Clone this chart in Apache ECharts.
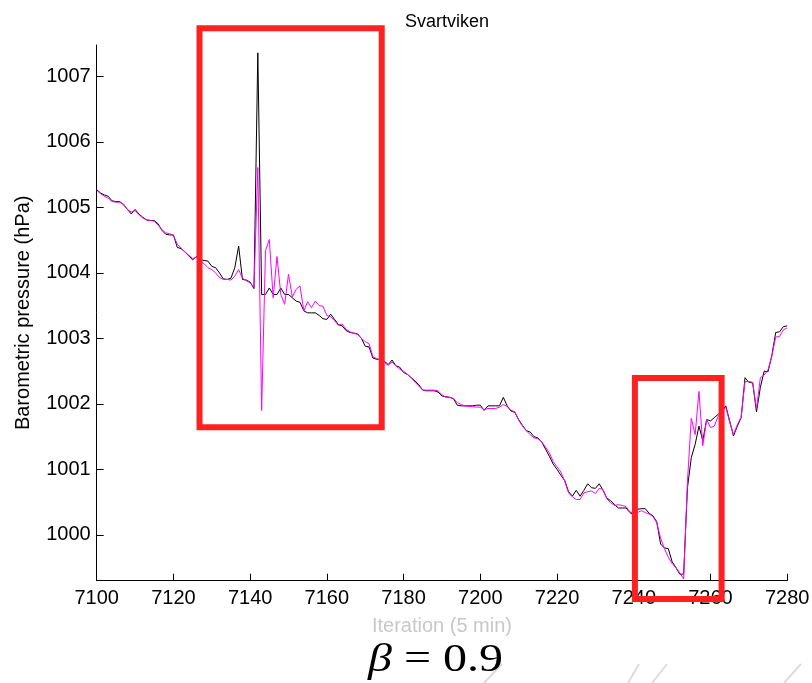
<!DOCTYPE html>
<html>
<head>
<meta charset="utf-8">
<title>Svartviken</title>
<script src="https://cdn.jsdelivr.net/npm/echarts@6/dist/echarts.min.js"></script>
<style>
  html, body { margin: 0; padding: 0; background: #ffffff; }
  #chart { width: 812px; height: 683px; }
</style>
</head>
<body>
<div id="chart"></div>
<script>
// Iterations are 5-minute steps starting here
const firstIteration = 7100;

// Measured barometric pressure (hPa), black trace
const measured = [
  1005.27, 1005.22, 1005.19, 1005.17, 1005.10, 1005.09, 1005.09, 1005.04, 1004.97, 1004.90,
  1004.97, 1004.90, 1004.85, 1004.81, 1004.80, 1004.80, 1004.75, 1004.65, 1004.59, 1004.58,
  1004.58, 1004.39, 1004.37, 1004.32, 1004.26, 1004.20, 1004.25, 1004.20, 1004.19, 1004.18,
  1004.10, 1004.08, 1004.00, 1003.91, 1003.90, 1003.92, 1004.08, 1004.41, 1003.90, 1003.89,
  1003.86, 1003.76, 1007.36, 1003.67, 1003.67, 1003.77, 1003.67, 1003.67, 1003.77, 1003.67,
  1003.67, 1003.62, 1003.57, 1003.55, 1003.42, 1003.39, 1003.39, 1003.39, 1003.35, 1003.30,
  1003.29, 1003.37, 1003.29, 1003.21, 1003.19, 1003.12, 1003.09, 1003.08, 1003.07, 1003.00,
  1002.88, 1002.87, 1002.70, 1002.68, 1002.68, 1002.65, 1002.60, 1002.67, 1002.58, 1002.56,
  1002.48, 1002.45, 1002.40, 1002.35, 1002.29, 1002.21, 1002.20, 1002.20, 1002.20, 1002.18,
  1002.12, 1002.11, 1002.10, 1002.08, 1001.98, 1001.97, 1001.97, 1001.97, 1001.97, 1001.98,
  1001.98, 1001.90, 1001.97, 1001.97, 1001.97, 1001.97, 1002.10, 1001.97, 1001.89, 1001.87,
  1001.76, 1001.67, 1001.59, 1001.57, 1001.50, 1001.48, 1001.42, 1001.31, 1001.20, 1001.08,
  1001.00, 1000.91, 1000.83, 1000.66, 1000.59, 1000.68, 1000.59, 1000.68, 1000.78, 1000.72,
  1000.71, 1000.78, 1000.68, 1000.56, 1000.52, 1000.46, 1000.41, 1000.41, 1000.41, 1000.34,
  1000.30, 1000.39, 1000.40, 1000.40, 1000.33, 1000.29, 1000.20,  999.86,  999.80,  999.79,
   999.59,  999.50,  999.40,  999.40, 1000.72, 1001.18, 1001.38, 1001.66, 1001.44, 1001.76,
  1001.74, 1001.79, 1001.84, 1001.90, 1001.97, 1001.74, 1001.51, 1001.66, 1001.79, 1002.40,
  1002.33, 1002.32, 1001.88, 1002.25, 1002.50, 1002.49, 1002.74, 1003.09, 1003.10, 1003.18,
  1003.19
];

// Filtered estimate (hPa), magenta trace
const filtered = [
  1005.26, 1005.21, 1005.17, 1005.14, 1005.09, 1005.08, 1005.08, 1005.05, 1004.97, 1004.93,
  1004.95, 1004.89, 1004.84, 1004.81, 1004.80, 1004.79, 1004.73, 1004.66, 1004.61, 1004.60,
  1004.57, 1004.44, 1004.38, 1004.32, 1004.27, 1004.22, 1004.24, 1004.18, 1004.14, 1004.08,
  1004.05, 1004.00, 1003.93, 1003.90, 1003.90, 1003.89, 1003.95, 1004.05, 1003.92, 1003.88,
  1003.85, 1003.78, 1005.61, 1001.90, 1004.34, 1004.51, 1003.62, 1004.25, 1003.67, 1003.52,
  1003.98, 1003.63, 1003.75, 1003.80, 1003.42, 1003.56, 1003.47, 1003.57, 1003.50, 1003.49,
  1003.35, 1003.33, 1003.27, 1003.20, 1003.22, 1003.14, 1003.10, 1003.08, 1003.06, 1003.00,
  1002.95, 1002.92, 1002.72, 1002.69, 1002.67, 1002.63, 1002.59, 1002.64, 1002.58, 1002.53,
  1002.50, 1002.45, 1002.40, 1002.33, 1002.27, 1002.21, 1002.21, 1002.21, 1002.21, 1002.20,
  1002.14, 1002.10, 1002.10, 1002.08, 1002.02, 1001.99, 1001.97, 1001.96, 1001.96, 1001.95,
  1001.95, 1001.91, 1001.93, 1001.93, 1001.93, 1001.95, 1001.99, 1001.96, 1001.90, 1001.88,
  1001.75, 1001.66, 1001.59, 1001.53, 1001.48, 1001.47, 1001.42, 1001.34, 1001.25, 1001.12,
  1001.04, 1000.96, 1000.82, 1000.64, 1000.58, 1000.54, 1000.54, 1000.64, 1000.66, 1000.67,
  1000.63, 1000.71, 1000.69, 1000.55, 1000.49, 1000.45, 1000.46, 1000.45, 1000.43, 1000.35,
  1000.33, 1000.34, 1000.37, 1000.34, 1000.32, 1000.28, 1000.18,  999.95,  999.79,  999.66,
   999.56,  999.50,  999.42,  999.33, 1000.82, 1001.78, 1001.53, 1002.19, 1001.36, 1001.76,
  1001.64, 1001.66, 1001.81, 1001.88, 1001.95, 1001.72, 1001.53, 1001.68, 1001.80, 1002.34,
  1002.34, 1002.33, 1001.92, 1002.40, 1002.44, 1002.52, 1002.73, 1003.02, 1003.03, 1003.13,
  1003.16
];

// Axis ticks
const xTicks = [7100, 7120, 7140, 7160, 7180, 7200, 7220, 7240, 7260, 7280];
const yTicks = [1000, 1001, 1002, 1003, 1004, 1005, 1006, 1007];

// Highlight boxes around the disturbances, in data units: [x0, yTop, x1, yBottom]
const highlightBoxes = [
  [7126.8, 1007.736, 7174.3, 1001.642],
  [7240.3, 1002.395, 7262.9, 999.022]
];

const toPairs = (values) => values.map((v, i) => [firstIteration + i, v]);
const plainNumber = (v) => String(v);

const chart = echarts.init(document.getElementById('chart'), null, { renderer: 'canvas' });

const sansFont = '"Liberation Sans", Arial, Helvetica, sans-serif';

const option = {
  animation: false,
  backgroundColor: '#ffffff',
  title: {
    text: 'Svartviken',
    left: 400,
    top: 8,
    textStyle: { fontFamily: sansFont, fontSize: 18, fontWeight: 'normal', color: '#000000' }
  },
  grid: {
    left: 96.7,
    right: 24.8,
    top: 45,
    bottom: 102.3,
    containLabel: false,
    outerBoundsMode: 'none'
  },
  xAxis: {
    type: 'value',
    min: xTicks[0],
    max: xTicks[xTicks.length - 1],
    interval: 20,
    name: 'Iteration (5 min)',
    nameLocation: 'middle',
    nameGap: 36,
    nameTextStyle: { fontFamily: sansFont, fontSize: 20, color: '#c8c8c8' },
    axisLine: { show: true, onZero: false, lineStyle: { color: '#000000', width: 1 } },
    axisTick: { show: true, inside: true, length: 7, lineStyle: { color: '#000000', width: 1 } },
    axisLabel: { fontFamily: sansFont, fontSize: 20, color: '#000000', margin: 8, formatter: plainNumber },
    splitLine: { show: false }
  },
  yAxis: {
    type: 'value',
    min: 999.30,
    max: 1007.48,
    name: 'Barometric pressure (hPa)',
    nameLocation: 'middle',
    nameRotate: 90,
    nameGap: 63,
    nameTextStyle: { fontFamily: sansFont, fontSize: 20, color: '#000000' },
    axisLine: { show: true, onZero: false, lineStyle: { color: '#000000', width: 1 } },
    axisTick: { show: true, inside: true, length: 7, customValues: yTicks, lineStyle: { color: '#000000', width: 1 } },
    axisLabel: { fontFamily: sansFont, fontSize: 20, color: '#000000', margin: 6, customValues: yTicks, formatter: plainNumber },
    splitLine: { show: false }
  },
  series: [
    {
      name: 'measured',
      type: 'line',
      data: toPairs(measured),
      showSymbol: false,
      symbol: 'none',
      lineStyle: { color: '#000000', width: 1 },
      itemStyle: { color: '#000000' },
      silent: true,
      z: 2
    },
    {
      name: 'filtered',
      type: 'line',
      data: toPairs(filtered),
      showSymbol: false,
      symbol: 'none',
      lineStyle: { color: '#ff00ff', width: 1 },
      itemStyle: { color: '#ff00ff' },
      silent: true,
      z: 3
    }
  ]
};

chart.setOption(option);

// Red frames around the disturbed stretches, plus the caption and faint strokes at the bottom
const frames = highlightBoxes.map(([x0, y0, x1, y1]) => {
  const p0 = chart.convertToPixel({ gridIndex: 0 }, [x0, y0]);
  const p1 = chart.convertToPixel({ gridIndex: 0 }, [x1, y1]);
  return {
    type: 'rect',
    shape: { x: p0[0], y: p0[1], width: p1[0] - p0[0], height: p1[1] - p0[1] },
    style: { fill: 'none', stroke: '#ff2121', lineWidth: 6 },
    z: 10,
    silent: true
  };
});

const strokes = [
  [484, 683, 502, 664],
  [628, 683, 639, 664],
  [652, 683, 667, 664],
  [784, 683, 801, 664]
].map(([x1, y1, x2, y2]) => ({
  type: 'line',
  shape: { x1, y1, x2, y2 },
  style: { stroke: '#dcdcdc', lineWidth: 2 },
  z: 1,
  silent: true
}));

chart.setOption({
  graphic: [
    ...strokes,
    ...frames,
    {
      type: 'text',
      x: 368,
      y: 660,
      scaleX: 1.2,
      originX: 0,
      style: {
        text: '{b|β} = 0.9',
        font: '40px "Liberation Serif", "Times New Roman", serif',
        fill: '#000000',
        align: 'left',
        verticalAlign: 'middle',
        rich: {
          b: { fontFamily: '"Liberation Serif", "Times New Roman", serif', fontSize: 40, fontStyle: 'italic', fill: '#000000' }
        }
      },
      z: 12,
      silent: true
    }
  ]
});
</script>
</body>
</html>
